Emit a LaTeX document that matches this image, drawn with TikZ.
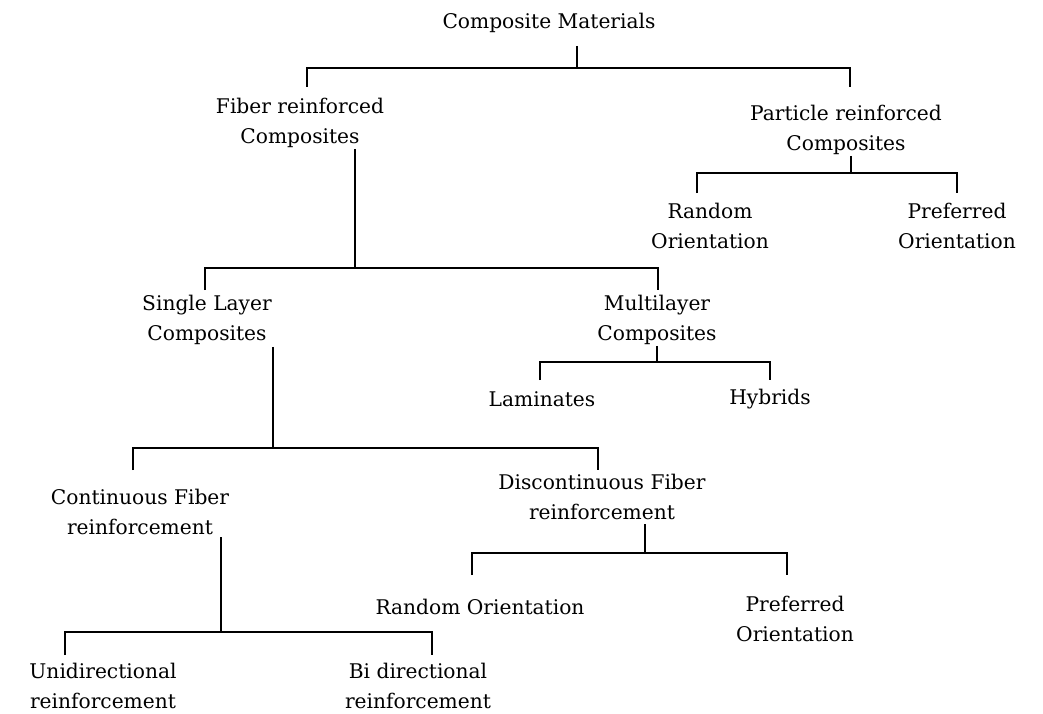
\documentclass[tikz,border=0pt]{standalone}
\usepackage{fontspec}
\newfontfamily\lblfont{DejaVu Serif}
\begin{document}
\begin{tikzpicture}[x=1pt,y=-1pt,
  lbl/.style={align=center, inner sep=0pt, font=\lblfont\fontsize{20.2}{30}\selectfont},
  br/.style={line width=1.7pt}]
\useasboundingbox (0,0) rectangle (1043,714);
% nodes
\node[lbl] (cm) at (549,23) {Composite Materials};
\node[lbl] (fib) at (300,123) {Fiber reinforced\\Composites};
\node[lbl] (par) at (846,130) {Particle reinforced\\Composites};
\node[lbl] (rand1) at (710,226) {Random\\Orientation};
\node[lbl] (pref1) at (957,226) {Preferred\\Orientation};
\node[lbl] (single) at (207,320) {Single Layer\\Composites};
\node[lbl] (multi) at (657,320) {Multilayer\\Composites};
\node[lbl] (lam) at (542,399) {Laminates};
\node[lbl] (hyb) at (770,399) {Hybrids};
\node[lbl] (cont) at (140,512) {Continuous Fiber\\reinforcement};
\node[lbl] (disc) at (602,497) {Discontinuous Fiber\\reinforcement};
\node[lbl] (rand2) at (480,607) {Random Orientation};
\node[lbl] (pref2) at (795,619) {Preferred\\Orientation};
\node[lbl] (uni) at (103,686) {Unidirectional\\reinforcement};
\node[lbl] (bi) at (418,686) {Bi directional\\reinforcement};
% junctions
\coordinate (j1) at (577,68);
\coordinate (j2) at (851,173);
\coordinate (j3) at (355,268);
\coordinate (j4) at (657,362);
\coordinate (j5) at (273,448);
\coordinate (j6) at (645,553);
\coordinate (j7) at (221,632);
% drop ends
\coordinate (d1a) at (307,87);  \coordinate (d1b) at (850,87);
\coordinate (d2a) at (697,193); \coordinate (d2b) at (957,193);
\coordinate (d3a) at (205,290); \coordinate (d3b) at (658,290);
\coordinate (d4a) at (540,380); \coordinate (d4b) at (770,380);
\coordinate (d5a) at (133,470); \coordinate (d5b) at (598,470);
\coordinate (d6a) at (472,575); \coordinate (d6b) at (787,575);
\coordinate (d7a) at (65,655);  \coordinate (d7b) at (432,655);
% connectors
\draw[br] (cm.south -| j1) ++(0,13) -- (j1);
\draw[br] (d1a) |- (j1) -| (d1b);
\draw[br] (par.south -| j2) ++(0,1) -- (j2);
\draw[br] (d2a) |- (j2) -| (d2b);
\draw[br] (fib.south -| j3) ++(0,1) -- (j3);
\draw[br] (d3a) |- (j3) -| (d3b);
\draw[br] (multi.south -| j4) ++(0,1) -- (j4);
\draw[br] (d4a) |- (j4) -| (d4b);
\draw[br] (single.south -| j5) ++(0,2) -- (j5);
\draw[br] (d5a) |- (j5) -| (d5b);
\draw[br] (disc.south -| j6) ++(0,4) -- (j6);
\draw[br] (d6a) |- (j6) -| (d6b);
\draw[br] (cont.south -| j7) ++(0,2) -- (j7);
\draw[br] (d7a) |- (j7) -| (d7b);
\end{tikzpicture}
\end{document}
